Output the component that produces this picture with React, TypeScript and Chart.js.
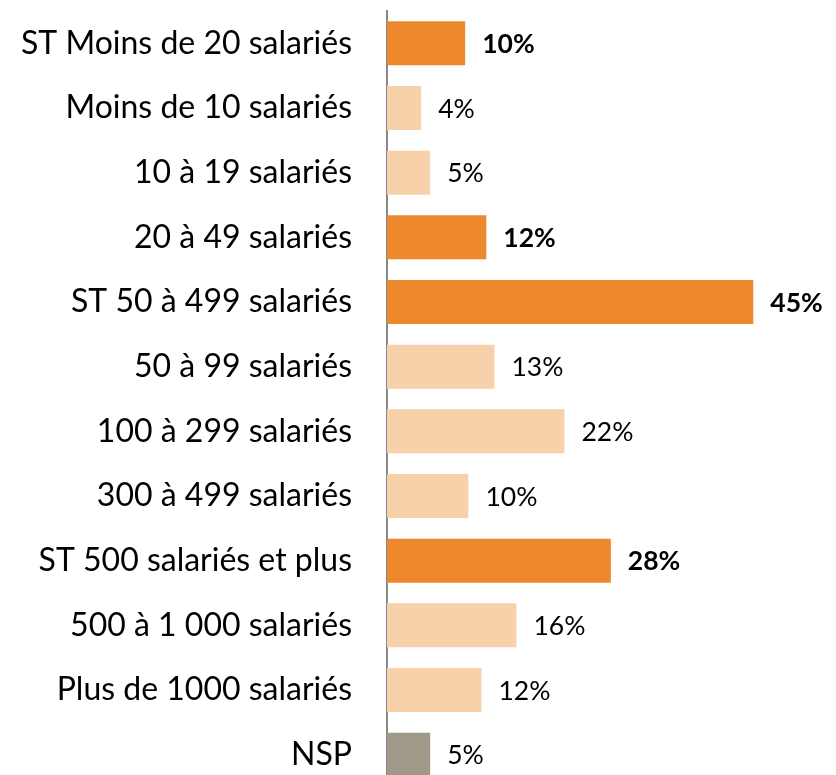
import React, { useEffect, useRef } from "react";
import { Chart, registerables } from "chart.js";

Chart.register(...registerables);

const categories = [
  "ST Moins de 20 salariés",
  "Moins de 10 salariés",
  "10 à 19 salariés",
  "20 à 49 salariés",
  "ST 50 à 499 salariés",
  "50 à 99 salariés",
  "100 à 299 salariés",
  "300 à 499 salariés",
  "ST 500 salariés et plus",
  "500 à 1 000 salariés",
  "Plus de 1000 salariés",
  "NSP",
];

const values = [9.6, 4.2, 5.3, 12.2, 45.0, 13.2, 21.8, 10.0, 27.5, 15.9, 11.6, 5.3];

const kinds = ["st", "sub", "sub", "st", "st", "sub", "sub", "sub", "st", "sub", "sub", "nsp"];

const COLORS: Record<string, string> = {
  st: "#EE882C",
  sub: "#F8D0AA",
  nsp: "#A09888",
};

const FONT = "Lato";

const valueLabels = {
  id: "valueLabels",
  afterDatasetsDraw(chart: any) {
    const ctx = chart.ctx;
    const meta = chart.getDatasetMeta(0);
    ctx.save();
    ctx.fillStyle = "#000";
    ctx.textBaseline = "middle";
    ctx.textAlign = "left";
    meta.data.forEach((bar: any, i: number) => {
      const bold = kinds[i] === "st";
      ctx.font = `${bold ? "bold " : ""}26.5px ${FONT}`;
      ctx.fillText(`${Math.round(values[i])}%`, bar.x + 17, bar.y + 1);
    });
    ctx.restore();
  },
};

export default function App() {
  const ref = useRef<HTMLCanvasElement>(null);
  useEffect(() => {
    if (!ref.current) return;
    const chart = new Chart(ref.current, {
      type: "bar",
      data: {
        labels: categories,
        datasets: [
          {
            data: values,
            backgroundColor: kinds.map((k) => COLORS[k]),
            barPercentage: 0.68,
            categoryPercentage: 1,
          },
        ],
      },
      options: {
        indexAxis: "y",
        responsive: false,
        animation: false,
        layout: { padding: { top: 11, bottom: 3, left: 0, right: 42 } },
        plugins: { legend: { display: false }, tooltip: { enabled: false } },
        scales: {
          x: {
            min: 0,
            max: 50,
            display: false,
            grid: { display: false },
          },
          y: {
            grid: { display: false },
            border: { display: true, color: "#898989", width: 2 },
            ticks: {
              color: "#000",
              font: { family: FONT, size: 32 },
              padding: 27,
            },
            afterFit: (scale: any) => {
              scale.width = 387;
              scale.paddingTop = 0;
              scale.paddingBottom = 0;
            },
          },
        },
      },
      plugins: [valueLabels],
    });
    return () => chart.destroy();
  }, []);
  return (
    <div
      style={{
        position: "fixed",
        left: 0,
        top: 0,
        width: 836,
        height: 775,
        overflow: "hidden",
        background: "#fff",
      }}
    >
      <canvas ref={ref} width={836} height={790} style={{ width: 836, height: 790 }} />
    </div>
  );
}
